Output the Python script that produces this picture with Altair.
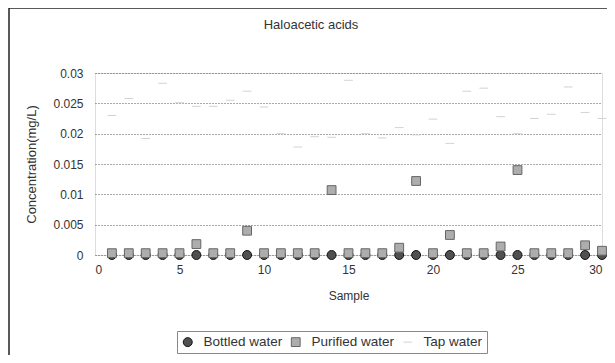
import altair as alt
import pandas as pd

samples = list(range(1, 31))
bottled = [0.0] * 30
purified = [0.0003, 0.0003, 0.0003, 0.0003, 0.0003, 0.0018, 0.0003, 0.0003, 0.0040, 0.0003,
            0.0003, 0.0003, 0.0003, 0.0107, 0.0003, 0.0003, 0.0003, 0.0012, 0.0122, 0.0003,
            0.0033, 0.0003, 0.0003, 0.0014, 0.0140, 0.0003, 0.0003, 0.0003, 0.0016, 0.0007]
tap = [0.0230, 0.0258, 0.0192, 0.0283, 0.0251, 0.0245, 0.0245, 0.0255, 0.0270, 0.0244,
       0.0200, 0.0178, 0.0195, 0.0194, 0.0288, 0.0200, 0.0193, 0.0210, 0.0198, 0.0224,
       0.0184, 0.0270, 0.0275, 0.0228, 0.0200, 0.0225, 0.0232, 0.0277, 0.0235, 0.0225]
series_names = ["Bottled water", "Purified water", "Tap water"]
y_ticks = [0, 0.005, 0.01, 0.015, 0.02, 0.025, 0.03]
x_ticks = [0, 5, 10, 15, 20, 25, 30]
chart_title = "Haloacetic acids"

rows = []
for name, vals in zip(series_names, [bottled, purified, tap]):
    for s, v in zip(samples, vals):
        rows.append({"Sample": s, "Series": name, "Value": v})
df = pd.DataFrame(rows)
df["order"] = df["Series"].map({n: i for i, n in enumerate(series_names)})

FONT = "Liberation Sans"
TXT = "#333333"

def leg():
    return alt.Legend(title=None, orient="none", legendX=82, legendY=258,
                      direction="horizontal", strokeColor="#888888",
                      padding=4, labelFontSize=13.5, labelFont=FONT,
                      labelColor=TXT, columnPadding=6,
                      symbolStrokeWidth=1, labelOffset=9)

points = alt.Chart(df).mark_point(filled=True, strokeWidth=1, opacity=1).encode(
    x=alt.X("Sample:Q",
            scale=alt.Scale(domain=[0, 30], nice=False),
            axis=alt.Axis(values=x_ticks, grid=False, domain=False, ticks=False,
                          labelPadding=9, labelFontSize=12, labelColor=TXT, labelFont=FONT,
                          title="Sample", titleFontSize=12, titleFont=FONT, titleColor=TXT,
                          titleFontWeight="normal", titlePadding=15)),
    y=alt.Y("Value:Q",
            scale=alt.Scale(domain=[0, 0.03], nice=False),
            axis=alt.Axis(values=y_ticks, format="~g", grid=True, gridColor="#555555",
                          gridDash=[1, 2], gridWidth=1, domain=False, ticks=False,
                          labelPadding=12, labelFontSize=12, labelColor=TXT, labelFont=FONT,
                          title="Concentration(mg/L)", titleFontSize=13, titleFont=FONT,
                          titleColor=TXT, titleFontWeight="normal",
                          titleX=-64, titleY=91, titleAngle=-90, titleAlign="center",
                          titleBaseline="middle")),
    fill=alt.Fill("Series:N",
                  scale=alt.Scale(domain=series_names, range=["#505050", "#adadad", "#d2d2d2"]),
                  legend=leg()),
    stroke=alt.Stroke("Series:N",
                      scale=alt.Scale(domain=series_names, range=["#111111", "#666666", "#d2d2d2"]),
                      legend=leg()),
    shape=alt.Shape("Series:N",
                    scale=alt.Scale(domain=series_names, range=["circle", "square", "stroke"]),
                    legend=leg()),
    size=alt.Size("Series:N",
                  scale=alt.Scale(domain=series_names, range=[80, 75, 16]),
                  legend=leg()),
    order=alt.Order("order:Q"),
)

one = pd.DataFrame({"t": [chart_title]})
frame_left = alt.Chart(one).mark_rule(color="#222222", strokeWidth=1.5).encode(
    x=alt.value(-86), y=alt.value(-65), y2=alt.value(300))
frame_top = alt.Chart(one).mark_rule(color="#222222", strokeWidth=1.5).encode(
    x=alt.value(-86), x2=alt.value(520), y=alt.value(-65))
title_text = alt.Chart(one).mark_text(fontSize=13, font=FONT, color=TXT,
                                       align="center", baseline="middle").encode(
    x=alt.value(216), y=alt.value(-48), text="t:N")

chart = alt.layer(frame_left, frame_top, title_text, points).properties(
    width=507, height=182,
    autosize=alt.AutoSizeParams(type="none"),
    padding={"left": 87, "top": 65, "right": 5, "bottom": 100},
).configure_view(stroke="#444444", strokeDash=[2, 1], strokeWidth=1
).configure(background="white")

chart.save("out.html", embed_options={"renderer": "svg", "actions": False})
